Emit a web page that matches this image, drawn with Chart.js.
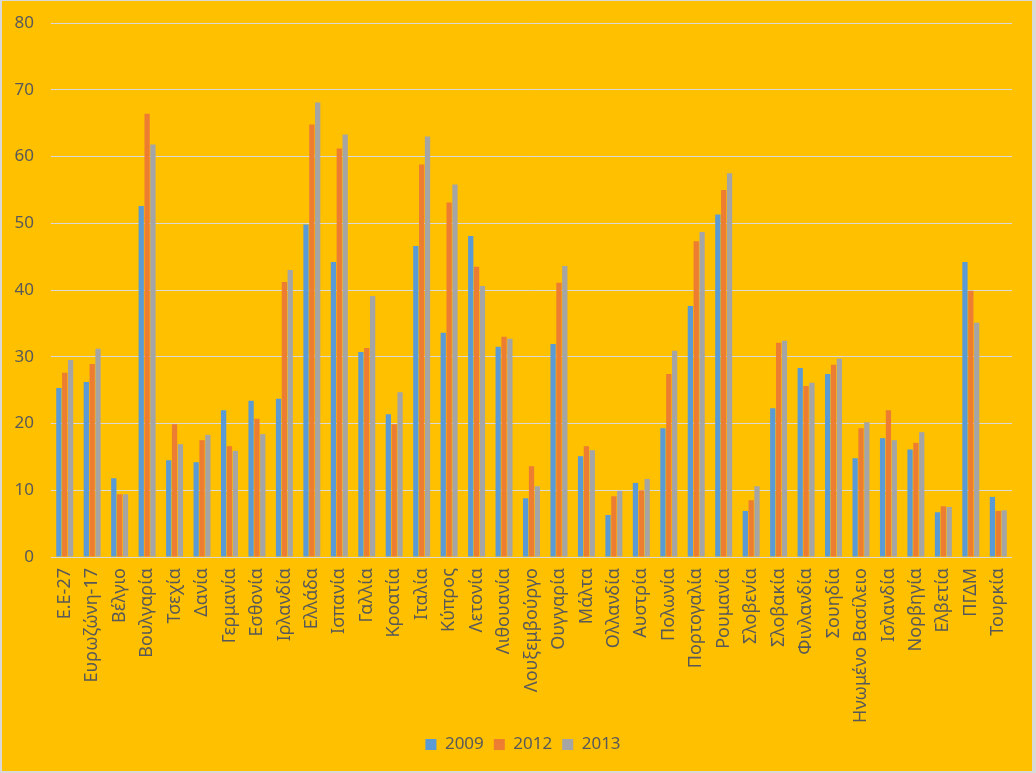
<!DOCTYPE html>
<html>
<head>
<meta charset="utf-8">
<script src="https://cdn.jsdelivr.net/npm/chart.js@4.4.0/dist/chart.umd.min.js"></script>
<style>
  html, body { margin: 0; padding: 0; background: #d9d9d9; }
  #wrap { position: absolute; left: 2px; top: 1px; width: 1030px; height: 770px; background: #FFC000; }
  canvas { display: block; }
</style>
</head>
<body>
<div id="wrap"><canvas id="c" width="1030" height="770"></canvas></div>
<script>
const categories = ["Ε.Ε-27","Ευρωζώνη-17","Βέλγιο","Βουλγαρία","Τσεχία","Δανία","Γερμανία","Εσθονία","Ιρλανδία","Ελλάδα","Ισπανία","Γαλλία","Κροατία","Ιταλία","Κύπρος","Λετονία","Λιθουανία","Λουξεμβούργο","Ουγγαρία","Μάλτα","Ολλανδία","Αυστρία","Πολωνία","Πορτογαλία","Ρουμανία","Σλοβενία","Σλοβακία","Φινλανδία","Σουηδία","Ηνωμένο Βασίλειο","Ισλανδία","Νορβηγία","Ελβετία","ΠΓΔΜ","Τουρκία"];
const values2009 = [25.3,26.2,11.8,52.6,14.5,14.2,22.0,23.4,23.7,49.8,44.2,30.7,21.4,46.6,33.6,48.1,31.5,8.8,31.9,15.1,6.3,11.1,19.3,37.6,51.3,6.9,22.3,28.3,27.4,14.8,17.8,16.1,6.7,44.2,9.0];
const values2012 = [27.6,28.9,9.4,66.4,19.9,17.5,16.6,20.7,41.2,64.8,61.2,31.3,19.9,58.8,53.1,43.5,33.0,13.6,41.1,16.6,9.1,10.0,27.4,47.3,55.0,8.5,32.1,25.6,28.8,19.3,22.0,17.1,7.6,39.9,6.9];
const values2013 = [29.5,31.2,9.4,61.8,16.9,18.3,15.9,18.4,43.0,68.1,63.3,39.1,24.7,63.0,55.8,40.6,32.7,10.6,43.6,16.0,9.9,11.7,30.9,48.7,57.5,10.6,32.4,26.1,29.7,20.2,17.5,18.7,7.5,35.1,7.0];
const seriesNames = ["2009","2012","2013"];
const yTicks = [0,10,20,30,40,50,60,70,80];

const colors = ["#5B9BD5","#ED7D31","#A5A5A5"];
const fontFamily = "'Noto Sans', 'Liberation Sans', sans-serif";
const txt = "#595959";

const legendShift = {
  id: 'legendShift',
  afterLayout(chart) {
    if (chart.legend) { chart.legend.left += 16; chart.legend.right += 16; }
  }
};

new Chart(document.getElementById('c'), {
  type: 'bar',
  data: {
    labels: categories,
    datasets: [values2009, values2012, values2013].map((d, i) => ({
      label: seriesNames[i],
      data: d,
      backgroundColor: colors[i],
      borderWidth: 0,
      categoryPercentage: 0.64,
      barPercentage: 0.9
    }))
  },
  plugins: [legendShift],
  options: {
    responsive: false,
    animation: false,
    layout: { padding: { left: 0, right: 20, top: 22, bottom: 8 } },
    plugins: {
      tooltip: { enabled: false },
      legend: {
        position: 'bottom',
        labels: {
          color: txt,
          font: { family: fontFamily, size: 17 },
          boxWidth: 11,
          boxHeight: 11,
          padding: 10
        }
      }
    },
    scales: {
      x: {
        grid: { display: false, drawTicks: false },
        border: { display: false },
        ticks: {
          color: txt,
          font: { family: fontFamily, size: 18 },
          maxRotation: 90,
          minRotation: 90,
          autoSkip: false,
          padding: 11
        },
        afterFit: s => { s.height = 169; }
      },
      y: {
        min: 0, max: 80,
        afterBuildTicks: s => { s.ticks = yTicks.map(v => ({ value: v })); },
        grid: { color: "#D9D9D9", lineWidth: 1, drawTicks: true, tickLength: 17, tickColor: 'rgba(0,0,0,0)' },
        border: { display: false },
        ticks: {
          color: txt,
          font: { family: fontFamily, size: 17 },
          padding: 0
        },
        afterFit: s => { s.width = 49; }
      }
    }
  }
});
</script>
</body>
</html>
